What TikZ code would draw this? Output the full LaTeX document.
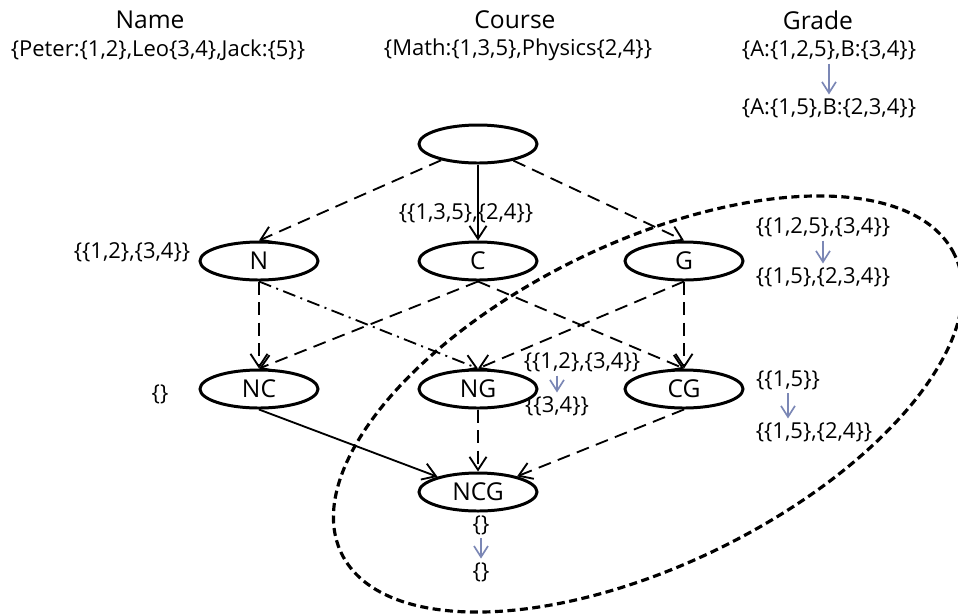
\documentclass[tikz,border=0pt]{standalone}
\usepackage{fontspec}
\setmainfont{Open Sans}
\usepackage{tikz}
\usetikzlibrary{arrows.meta,shapes.geometric}
\usepackage{xcolor}
\definecolor{gradeBlue}{HTML}{7B87B5}

\begin{document}
\begin{tikzpicture}[
  attr/.style={draw,ellipse,line width=1.7pt,fill=white,minimum width=2.36cm,minimum height=0.76cm,inner sep=0pt,font=\fontsize{14}{16}\selectfont},
  lbl/.style={inner sep=1pt,font=\fontsize{12.5}{14}\selectfont},
  ttl/.style={inner sep=1pt,font=\fontsize{14}{16}\selectfont},
  dep/.style={-{Straight Barb[length=2.6mm,width=3.4mm]},line width=1.05pt,dash pattern=on 2.6mm off 1.5mm},
  fd/.style={-{Straight Barb[length=2.6mm,width=3.4mm]},line width=1.05pt},
  mvd/.style={-{Straight Barb[length=2.6mm,width=3.4mm]},line width=1.05pt,dash pattern=on 2.6mm off 1.1mm on 0.4mm off 1.1mm},
  upd/.style={-{Straight Barb[length=2.2mm,width=2.8mm]},line width=0.95pt,gradeBlue,shorten <=1pt,shorten >=1pt}]
  \useasboundingbox (0,0) rectangle (19.16,-12.26);

  \draw[line width=1.8pt,dash pattern=on 1.6mm off 0.9mm] (12.96,-8.08) ellipse[x radius=6.82cm,y radius=3.22cm,rotate=26];

  \node[ttl] (tname) at (3.0,-0.4) {Name};
  \node[ttl] (tcourse) at (10.3,-0.4) {Course};
  \node[ttl] (tgrade) at (16.36,-0.4) {Grade};
  \node[lbl] (vname) at (3.16,-1.0) {\{Peter:\{1,2\},Leo\{3,4\},Jack:\{5\}\}};
  \node[lbl] (vcourse) at (10.36,-1.0) {\{Math:\{1,3,5\},Physics\{2,4\}\}};
  \node[lbl] (vgrade) at (16.58,-1.0) {\{A:\{1,2,5\},B:\{3,4\}\}};
  \node[lbl] (vgrade2) at (16.58,-2.16) {\{A:\{1,5\},B:\{2,3,4\}\}};

  \node[attr] (top) at (9.56,-2.88) {};
  \node[attr] (N) at (5.18,-5.22) {N};
  \node[attr] (C) at (9.56,-5.22) {C};
  \node[attr] (G) at (13.68,-5.22) {G};
  \node[attr] (NC) at (5.18,-7.78) {NC};
  \node[attr] (NG) at (9.56,-7.78) {NG};
  \node[attr] (CG) at (13.68,-7.78) {CG};
  \node[attr] (NCG) at (9.56,-9.84) {NCG};

  \node[lbl] (pC) at (9.32,-4.26) {\{\{1,3,5\},\{2,4\}\}};
  \node[lbl] (pN) at (2.64,-5.04) {\{\{1,2\},\{3,4\}\}};
  \node[lbl] (pG) at (16.46,-4.54) {\{\{1,2,5\},\{3,4\}\}};
  \node[lbl] (pG2) at (16.46,-5.54) {\{\{1,5\},\{2,3,4\}\}};
  \node[lbl] (pNC) at (3.2,-7.88) {\{\}};
  \node[lbl] (pNG) at (11.64,-7.24) {\{\{1,2\},\{3,4\}\}};
  \node[lbl] (pNG2) at (11.14,-8.12) {\{\{3,4\}\}};
  \node[lbl] (pCG) at (15.76,-7.6) {\{\{1,5\}\}};
  \node[lbl] (pCG2) at (16.28,-8.64) {\{\{1,5\},\{2,4\}\}};
  \node[lbl] (pNCG) at (9.62,-10.5) {\{\}};
  \node[lbl] (pNCG2) at (9.62,-11.44) {\{\}};

  \draw[dep] (top) -- (N.north);
  \draw[fd] (top) -- (C);
  \draw[dep] (top) -- (G.north);
  \draw[dep] (N) -- (NC);
  \draw[mvd] (N.south) -- (NG.north);
  \draw[dep] (C.south) -- (NC.north);
  \draw[dep] (C.south) -- (CG.north);
  \draw[dep] (G.south) -- (NG.north);
  \draw[dep] (G) -- (CG);
  \draw[fd] (NC.south) -- (NCG);
  \draw[dep] (NG) -- (NCG);
  \draw[dep] (CG.south) -- (NCG);

  \draw[upd] (vgrade) -- (vgrade2);
  \draw[upd] (pG) -- (pG2);
  \draw[upd] (pNG2.north |- pNG.south) -- (pNG2.north);
  \draw[upd] (pCG) -- (pCG.south |- pCG2.north);
  \draw[upd] (pNCG) -- (pNCG2);
\end{tikzpicture}
\end{document}
